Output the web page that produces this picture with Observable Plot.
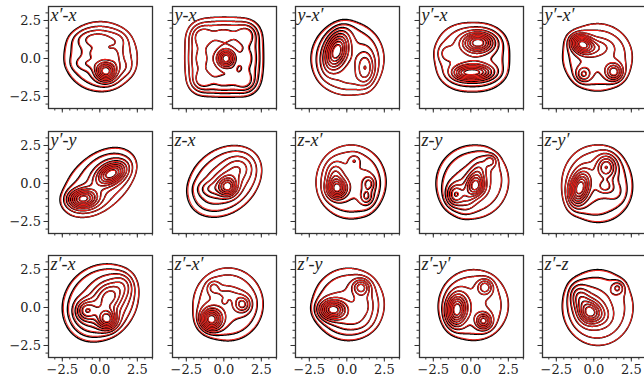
<!DOCTYPE html>
<html><head><meta charset="utf-8">
<script src="https://cdn.jsdelivr.net/npm/d3@7"></script>
<script src="https://cdn.jsdelivr.net/npm/@observablehq/plot@0.6"></script>
<style>
body{margin:0;background:#fff;}
#fig{position:relative;width:644px;height:381px;overflow:hidden;background:#fff;}
#fig svg{position:absolute;}
</style></head><body><div id="fig"></div>
<script>
// Panel titles (row-major, 3 rows x 5 columns)
const titles = ["x′-x","y-x","y-x′","y′-x","y′-x′","y′-y","z-x","z-x′","z-y","z-y′","z′-x","z′-x′","z′-y","z′-y′","z′-z"];
const majorTicks = [-2.5, 0, 2.5];
const minorTicks = [-3, -2.5, -2, -1.5, -1, -0.5, 0, 0.5, 1, 1.5, 2, 2.5, 3, 3.5];
const levelFractions = [0.1, 0.2, 0.3, 0.4, 0.5, 0.6, 0.7, 0.8, 0.9];

// Broad plateau of each density: [cx, cy, Rx, Ry, angle(deg), height, shape exponent]
const plateaus = [
  [0.05,0.12,2.35,2.2,0,0.17,2], [0.03,0.1,2.4,2.4,0,0.3,3], [0.05,0.02,2.35,2.35,0,0.17,2], [0.1,0.08,2.4,2.2,0,0.17,2.5], [0.25,0.08,2.25,2.15,0,0.17,2],
  [-0.05,0.1,2.75,1.75,40,0.16,2], [0.0,0.15,2.6,2.05,40,0.16,2], [0.3,0.1,2.25,2.35,0,0.17,2], [0.1,0.1,2.35,2.35,0,0.17,2], [0.25,-0.03,2.25,2.5,20,0.17,2],
  [0.0,0.33,2.55,2.25,45,0.16,2], [0.3,0.22,2.25,2.3,0,0.17,2], [0.1,0.22,2.3,2.3,0,0.17,2], [0.2,0.17,2.25,2.25,0,0.17,2], [0.3,0.0,2.3,2.45,0,0.16,2]
];

// Body, peaks and ridges: [mx, my, sx, sy, rho, amplitude]
const featXpX  = [[0.05,0.1,1.2,1.15,0,0.12],[0.4,-0.85,0.45,0.42,0,0.6],[-0.2,1.3,0.95,0.42,0,0.17],[0,0.34,0.55,0.24,0,0.11],[-0.9,-0.35,0.6,0.3,0,0.09],[1.1,0.1,0.3,0.5,0,0.09],[1.7,-0.6,0.4,0.4,0,0.06],[1.3,1.2,0.4,0.4,0,0.05]];
const featYX   = [[0.15,0,0.38,0.38,0,0.6],[-1.55,1.55,0.5,0.5,0,0.16],[1.6,1.65,0.5,0.5,0,0.16],[-1.55,-1.55,0.5,0.5,0,0.16],[1.5,-1.6,0.5,0.5,0,0.16],
  [0,1.6,0.6,0.45,0,0.1],[0,-1.6,0.6,0.45,0,0.1],[-1.6,0,0.45,0.6,0,0.1],[1.6,0,0.45,0.6,0,0.1],[0.6,-0.9,0.18,0.4,0,0.05]];
const featYXp  = [[0,0,1.2,1.2,0,0.13],[-0.7,0.5,0.52,0.82,0.35,0.62],[1.25,-0.65,0.42,0.78,0,0.3],[0.2,-1.4,0.6,0.4,0,0.06]];
const featYpX  = [[0.1,0.05,1.2,1.1,0,0.12],[0.5,1.05,0.68,0.42,0,0.6],[0.45,-0.92,0.72,0.34,0,0.48],[-0.5,-0.95,0.55,0.32,0,0.3],[-1.7,0.35,0.4,0.4,0,0.1]];
const featYpXp = [[0.2,0.05,1.15,1.1,0,0.13],[-0.8,0.95,0.48,0.4,-0.2,0.62],[0.25,0.75,0.7,0.38,0,0.14],[-0.7,-1.05,0.34,0.34,0,0.25],[1.35,-0.9,0.38,0.38,0,0.4]];
const featYpY  = [[-0.1,-0.1,1.1,1.1,0.6,0.12],[0.8,0.65,0.62,0.47,0.4,0.55],[0.6,0.8,0.8,0.7,0.2,0.1],[-1.15,-1.0,0.62,0.4,0.1,0.55],[-1.0,-1.1,0.75,0.5,0,0.08]];
const featZX   = [[0.1,0.1,1.1,1.0,0.45,0.28],[0.27,-0.23,0.4,0.4,0,0.42],[-1.0,-0.35,0.55,0.33,0,0.1],[1.0,1.1,0.6,0.5,0,0.1]];
const featZXp  = [[0.2,0.1,1.15,1.2,0,0.12],[-0.65,-0.35,0.42,0.42,0,0.55],[-0.8,0.55,0.38,0.55,0,0.2],[0.5,1.5,0.25,0.25,0,0.12],[1.5,0,0.26,0.3,0,0.16],[1.3,-0.9,0.26,0.3,0,0.15],[1.4,-0.45,0.4,0.8,0,0.1]];
const featZY   = [[0.1,0.1,1.2,1.2,0.2,0.13],[1.35,1.5,0.28,0.28,0,0.18],[0.2,0,0.5,0.95,0.6,0.33],[0.45,-0.2,0.36,0.4,0,0.3],[-1.05,-0.75,0.36,0.46,0,0.3],[-0.9,-0.5,0.55,0.75,0.3,0.08]];
const featZYp  = [[0.1,0,1.15,1.25,0.3,0.13],[0.85,1.1,0.44,0.52,0,0.35],[-0.95,-0.3,0.44,0.72,0.3,0.6],[0.75,-0.2,0.35,0.3,0,0.18],[1.5,-0.6,0.45,0.5,0,0.08]];
const featZpX  = [[0.2,0.2,1.0,1.1,0.4,0.25],[0.5,-0.8,0.42,0.42,0,0.38],[-0.95,-0.2,0.45,0.45,0,0.25],[0.7,0.8,0.55,0.55,0,0.14],[1.6,1.5,0.5,0.55,0,0.1]];
const featZpXp = [[0.2,0.1,1.15,1.2,0,0.12],[-0.85,-0.8,0.47,0.47,0,0.62],[-0.7,1.35,0.28,0.28,0,0.15],[1.25,0.2,0.36,0.36,0,0.3],[0.3,0.9,0.7,0.3,-0.3,0.1],[0.05,0.4,0.14,0.14,0,0.07]];
const featZpY  = [[0.1,0.1,1.2,1.15,0,0.12],[-0.95,-0.15,0.58,0.42,0,0.6],[0.95,1.35,0.4,0.36,0,0.33],[1.1,0.1,0.45,0.65,0,0.14],[0.3,-1.0,0.75,0.4,0,0.1]];
const featZpYp = [[0.1,0.1,1.1,1.15,0,0.12],[-0.95,-0.15,0.44,0.68,0.1,0.62],[0.95,1.35,0.34,0.34,0,0.3],[0.85,-0.9,0.35,0.35,0,0.42]];
const featZpZ  = [[0.1,0,1.15,1.2,0,0.12],[-0.25,-0.35,0.47,0.47,0,0.45],[-0.9,0.6,0.45,0.6,-0.3,0.22],[-0.2,0,0.8,0.9,-0.2,0.12],[1.6,1.3,0.3,0.3,0,0.2],[0.6,-0.6,0.45,0.45,0,0.08]];

// Red (estimated) density: small offset / scale per panel: [dx, dy, scale]
const redAdjust = [[0.03,0.02,0.985],[-0.03,0.02,0.985],[0.02,-0.03,0.985],[-0.02,0.02,0.98],[0.02,0.02,0.985],
                   [0.02,-0.02,0.985],[0.03,0.02,0.98],[-0.02,0.03,0.985],[0.03,0.0,0.98],[-0.02,0.02,0.985],
                   [0.03,0.02,0.98],[0.0,0.03,0.985],[0.03,0.02,0.985],[0.02,0.02,0.985],[0.02,-0.02,0.985]];

const features = [featXpX, featYX, featYXp, featYpX, featYpXp, featYpY, featZX, featZXp, featZY, featZYp, featZpX, featZpXp, featZpY, featZpYp, featZpZ];

const xDomain = [-3.42, 3.51];
const yDomain = [-3.29, 3.42];
const edgeSoftness = 0.24;
const W = 104, H = 102;
const colLeft = [48, 171.6, 295.2, 418.8, 542.4];
const rowTop = [6, 130.5, 255];

function density(plateau, feats, adj) {
  const [dx, dy, s] = adj;
  const [cx, cy, Rx, Ry, ang, h, p] = plateau;
  const pcx = cx * s + dx, pcy = cy * s + dy, prx = Rx * s, pry = Ry * s;
  const ca = Math.cos(ang * Math.PI / 180), sa = Math.sin(ang * Math.PI / 180);
  const reff = (prx + pry) / 2;
  const cs = feats.map(([mx, my, sx, sy, r, a]) => ({mx: mx * s + dx, my: my * s + dy, sx: sx * s, sy: sy * s, r, a}));
  return (x, y) => {
    const ex = x - pcx, ey = y - pcy;
    const u = (ex * ca + ey * sa) / prx, w = (-ex * sa + ey * ca) / pry;
    const rho = Math.pow(Math.pow(Math.abs(u), p) + Math.pow(Math.abs(w), p), 1 / p);
    let v = h / (1 + Math.exp((rho - 1) * reff / edgeSoftness));
    for (const c of cs) {
      const uu = (x - c.mx) / c.sx, t = (y - c.my) / c.sy;
      v += c.a * Math.exp(-0.5 / (1 - c.r * c.r) * (uu * uu - 2 * c.r * uu * t + t * t));
    }
    return v;
  };
}
function levels(f) {
  const n = 200;
  let m = 0;
  for (let i = 0; i < n; i++) for (let j = 0; j < n; j++) {
    m = Math.max(m, f(xDomain[0] + (i + 0.5) * (xDomain[1] - xDomain[0]) / n, yDomain[0] + (j + 0.5) * (yDomain[1] - yDomain[0]) / n));
  }
  return levelFractions.map(q => q * m);
}
const fmt = d3.format(".1f");
const fig = document.getElementById("fig");
const serif = "'DejaVu Serif', serif";

features.forEach((feats, i) => {
  const row = Math.floor(i / 5), col = i % 5;
  const fb = density(plateaus[i], feats, [0, 0, 1]);
  const fr = density(plateaus[i], feats, redAdjust[i]);
  const lb = levels(fb), lr = levels(fr);
  const ext = {x1: xDomain[0], x2: xDomain[1], y1: yDomain[0], y2: yDomain[1], pixelSize: 0.5};
  const svg = Plot.plot({
    width: W, height: H, margin: 0,
    style: {background: "transparent", overflow: "visible", fontFamily: serif, fontSize: "13px", color: "#222"},
    x: {domain: xDomain, axis: null},
    y: {domain: yDomain, axis: null},
    marks: [
      Plot.contour({value: fb, ...ext, thresholds: lb, stroke: "black", strokeWidth: 1.5, fill: "none"}),
      Plot.contour({value: fr, ...ext, thresholds: lr, stroke: "#e8211a", strokeWidth: 1.1, fill: "none"}),
      Plot.frame({stroke: "#333", strokeWidth: 1.3}),
      Plot.axisX(minorTicks, {anchor: "bottom", tickSize: 2.5, tickFormat: () => "", label: null, stroke: "#333"}),
      Plot.axisX(majorTicks, {anchor: "bottom", tickSize: 4.5, tickPadding: 3, tickFormat: row === 2 ? fmt : () => "", label: null, stroke: "#333"}),
      Plot.axisY(minorTicks.filter(d => d <= 3.4), {anchor: "left", tickSize: 2.5, tickFormat: () => "", label: null, stroke: "#333"}),
      Plot.axisY(majorTicks, {anchor: "left", tickSize: 4.5, tickPadding: 3, tickFormat: col === 0 ? fmt : () => "", label: null, stroke: "#333"}),
      Plot.text([titles[i]], {frameAnchor: "top-left", dx: 2, dy: 2, lineAnchor: "top", textAnchor: "start", fontSize: 18, fontStyle: "italic", fontFamily: "'Liberation Serif', serif", fill: "#222"})
    ]
  });
  svg.style.left = colLeft[col] + "px";
  svg.style.top = rowTop[row] + "px";
  fig.appendChild(svg);
});
</script></body></html>
